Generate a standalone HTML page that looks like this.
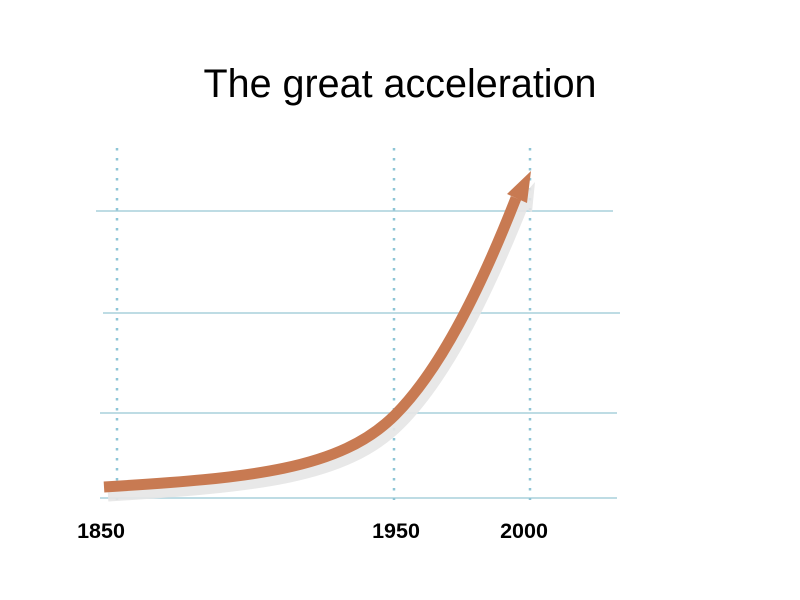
<!DOCTYPE html>
<html><head><style>body{margin:0;background:#fff}svg{display:block}</style></head><body>
<svg width="800" height="600" xmlns="http://www.w3.org/2000/svg">
<text x="400" y="97" text-anchor="middle" font-family="Liberation Sans, sans-serif" font-size="39.5" fill="#000">The great acceleration</text>
<g stroke="#a9d0dc" stroke-width="1.5">
<line x1="96" y1="211" x2="613" y2="211"/>
<line x1="103" y1="313" x2="620" y2="313"/>
<line x1="100" y1="413" x2="617" y2="413"/>
<line x1="100" y1="498" x2="617" y2="498"/>
</g>
<g stroke="#8ec5d6" stroke-width="2.5" stroke-dasharray="2.5,7.5">
<line x1="117" y1="148" x2="117" y2="500"/>
<line x1="394" y1="148" x2="394" y2="500"/>
<line x1="530" y1="148" x2="530" y2="500"/>
</g>
<g opacity="0.9">
<path d="M108,496 C255,487 345,479 400,424 C445,379 485,300 523,205" fill="none" stroke="#e6e6e6" stroke-width="11"/>
<polygon points="535,182 514,205 532,212" fill="#e6e6e6"/>
</g>
<path d="M104,487 C250,478 340,470 395,415 C440,370 480,290 516,198" fill="none" stroke="#c87a52" stroke-width="11"/>
<polygon points="531,171 507,194 527,203" fill="#c87a52"/>
<g font-family="Liberation Sans, sans-serif" font-size="21.5" font-weight="bold" fill="#000" text-anchor="middle">
<text x="101" y="538">1850</text>
<text x="396" y="538">1950</text>
<text x="524" y="538">2000</text>
</g>
</svg>
</body></html>
